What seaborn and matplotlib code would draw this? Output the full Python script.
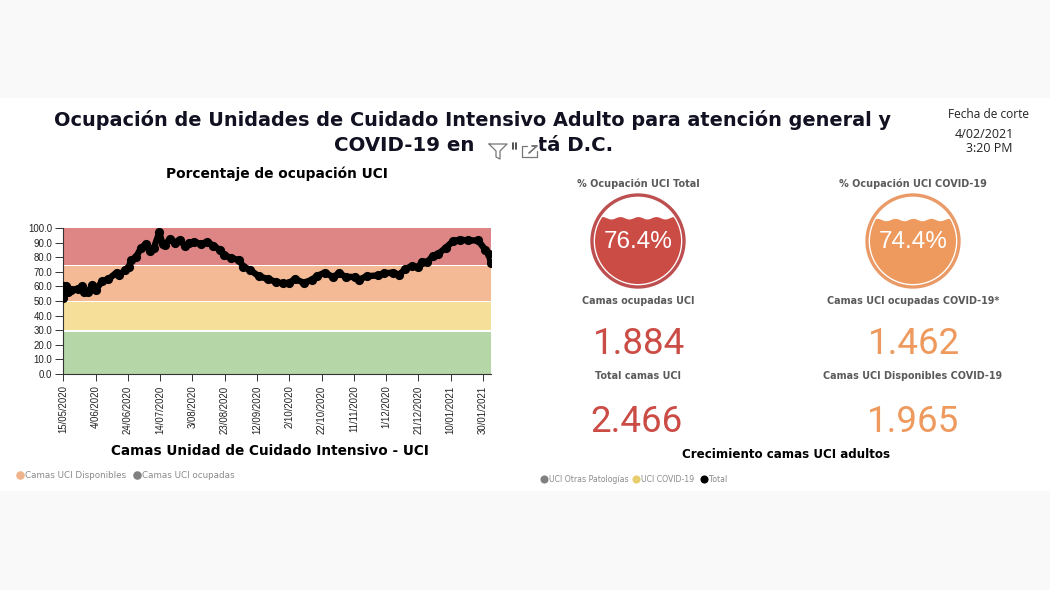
import numpy as np
import pandas as pd
import matplotlib
matplotlib.use('Agg')
import matplotlib.pyplot as plt
from matplotlib.patches import Circle, Rectangle
import seaborn as sns

W, H = 1050, 590

# days since 15/05/2020 and % occupation
days = [0, 0.5, 1.5, 3, 5, 9, 11.5, 13, 15.5, 18, 20, 24, 28, 33, 34.5, 38.5, 40.5, 42, 45, 48,
        51, 53.5, 56, 59.5, 61.5, 63, 66, 69, 72, 75.5, 78, 81, 85.5, 89, 93, 97, 99.5, 104, 109,
        111.5, 115.5, 121, 127, 132, 136, 140, 143.5, 149, 154, 157, 162, 167, 171, 175, 181, 183,
        188, 195, 199, 204.5, 208, 212, 216, 220, 222, 225.5, 229, 232, 237, 241.5, 245.5, 251,
        257, 261.5, 263.5, 265]
ocupacion = [52, 60, 60, 56, 57.5, 58.5, 60, 56, 56.5, 61, 57.5, 63.5, 65, 69.5, 67.5, 71.5, 73,
             78, 80, 86, 89, 84, 86, 97, 89, 88.5, 92.5, 90, 92, 87.5, 90, 90.5, 89, 90.5, 88, 85,
             81.5, 79.5, 78, 73.5, 71.5, 67, 65, 63, 62, 62.5, 65, 62.5, 64.5, 67, 69.5, 66.5, 69,
             66.5, 66.5, 64.5, 67, 67.5, 69, 69.5, 68, 72, 74, 73, 77, 76.5, 81, 82, 86.5, 91, 92,
             91.5, 91.5, 85, 82.5, 76]
tick_labels = ['15/05/2020', '4/06/2020', '24/06/2020', '14/07/2020', '3/08/2020', '23/08/2020',
               '12/09/2020', '2/10/2020', '22/10/2020', '11/11/2020', '1/12/2020', '21/12/2020',
               '10/01/2021', '30/01/2021']
y_ticks = [0, 10, 20, 30, 40, 50, 60, 70, 80, 90, 100]
band_low = [0, 30, 50, 75]
band_high = [29, 49, 74, 100]
band_colors = ['#B5D6A7', '#F5DF99', '#F4B995', '#DE8585']

gauge_values = [76.4, 74.4]
gauge_titles = ['% Ocupación UCI Total', '% Ocupación UCI COVID-19']
count_titles = ['Camas ocupadas UCI', 'Camas UCI ocupadas COVID-19*', 'Total camas UCI', 'Camas UCI Disponibles COVID-19']
count_values = ['1.884', '1.462', '2.466', '1.965']
RED = '#CB4B45'
ORANGE = '#EE9A5E'

sns.set_style('white')
plt.rcParams['font.family'] = ['DejaVu Sans']

fig = plt.figure(figsize=(W / 100, H / 100), dpi=100, facecolor='#F9F9F9')

# page layer in pixel coordinates
page = fig.add_axes([0, 0, 1, 1])
page.set_xlim(0, W)
page.set_ylim(H, 0)
page.axis('off')
page.add_patch(Rectangle((0, 98), W, 393, color='white', lw=0))

page.text(473, 120, 'Ocupación de Unidades de Cuidado Intensivo Adulto para atención general y',
          ha='center', va='center', fontsize=13.9, fontweight='bold', color='#111122')
page.text(474, 145, 'COVID-19 en Bogotá D.C.', ha='center', va='center', fontsize=14.2,
          fontweight='bold', color='#111122')
page.text(988, 114, 'Fecha de corte', ha='center', va='center', fontsize=8.6, family='Open Sans', color='#222222')
page.text(984, 134, '4/02/2021', ha='center', va='center', fontsize=9, family='Open Sans', color='#222222')
page.text(989, 149, '3:20 PM', ha='center', va='center', fontsize=9, family='Open Sans', color='#222222')
page.text(277, 174, 'Porcentaje de ocupación UCI', ha='center', va='center', fontsize=9.9, fontweight='bold', color='black')
page.text(270, 451, 'Camas Unidad de Cuidado Intensivo - UCI', ha='center', va='center', fontsize=9.85, fontweight='bold', color='black')
page.text(786, 455, 'Crecimiento camas UCI adultos', ha='center', va='center', fontsize=8.6, fontweight='bold', color='black')

# hover icons hide part of the title
page.add_patch(Rectangle((481, 136), 58, 24, color='white', lw=0, zorder=3))
page.plot([489, 507, 500, 500, 496, 496, 489], [144, 144, 151, 159, 157, 151, 144], color='#777777', lw=0.9, zorder=4)
page.plot([513, 513], [143, 149], color='#333333', lw=1.2, zorder=4)
page.plot([516, 516], [143, 149], color='#333333', lw=1.2, zorder=4)
page.plot([527, 522, 522, 537, 537], [146, 146, 157, 157, 151], color='#777777', lw=0.9, zorder=4)
page.plot([529, 537, 537, 532, 537, 529], [153, 146, 146, 146, 146, 153], color='#777777', lw=0.9, zorder=4)

# legends
for x, c, label in [(20, '#EFB48C', 'Camas UCI Disponibles'), (137, '#808080', 'Camas UCI ocupadas')]:
    page.scatter([x], [475], s=38, color=c, lw=0)
    page.text(x + 5, 475, label, va='center', fontsize=6.3, color='#8A8A8A')
for x, c, label in [(544, '#808080', 'UCI Otras Patologías'), (636, '#E8CD6E', 'UCI COVID-19'), (704, 'black', 'Total')]:
    page.scatter([x], [479], s=34, color=c, lw=0)
    page.text(x + 5, 479, label, va='center', fontsize=5.6, color='#8A8A8A')

# occupation chart
ax = fig.add_axes([63.3 / W, 1 - 374 / H, (491 - 63.3) / W, 146 / H], facecolor='white')
for low, high, c in zip(band_low, band_high, band_colors):
    ax.axhspan(low, high, color=c, lw=0, zorder=0)
df = pd.DataFrame({'dia': days, 'ocupacion': ocupacion})
sns.lineplot(data=df, x='dia', y='ocupacion', color='black', lw=4.6, marker='o', markersize=6.6,
             markeredgewidth=0, estimator=None, sort=False, ax=ax, zorder=3)
tick_dates = pd.to_datetime(tick_labels, format='%d/%m/%Y')
ax.set_xticks((tick_dates - tick_dates[0]).days)
ax.set_xticklabels(tick_labels, rotation=90, fontsize=6.9, family='Liberation Sans', color='#222222')
ax.set_yticks(y_ticks)
ax.set_yticklabels([f'{v:.1f}' for v in y_ticks], fontsize=6.9, family='Liberation Sans', color='#222222')
ax.set_xlim(0, 265)
ax.set_ylim(0, 100)
ax.set_xlabel('')
ax.set_ylabel('')
ax.tick_params(axis='x', bottom=True, length=5.2, width=0.7, color='#333333', pad=3)
ax.tick_params(axis='y', left=True, length=6, width=0.7, color='#333333', pad=2)
sns.despine(ax=ax)
for s in ['left', 'bottom']:
    ax.spines[s].set_color('#333333')
    ax.spines[s].set_linewidth(0.8)

# liquid gauges
for i, (cx, value, c) in enumerate(zip([638, 913], gauge_values, [RED, ORANGE])):
    g = fig.add_axes([(cx - 48) / W, 1 - (241 + 48) / H, 96 / W, 96 / H])
    g.set_xlim(-48, 48)
    g.set_ylim(-48, 48)
    g.axis('off')
    edge = '#BD4F50' if i == 0 else '#E99A66'
    g.add_patch(Circle((0, 0), 46, fill=False, ec=edge, lw=2.4))
    level = -44 + 88 * value / 100
    xs = np.linspace(-44, 44, 200)
    wave = level + 1.2 * np.cos(xs * 2 * np.pi / 18)
    fill = g.fill_between(xs, -44, wave, color=c, lw=0)
    fill.set_clip_path(Circle((0, 0), 43, transform=g.transData))
    g.text(0, -1, f'{value}%', ha='center', va='center', color='white', fontsize=17.5, family='Liberation Sans')

for cx, title in zip([638, 913], gauge_titles):
    page.text(cx, 184, title, ha='center', va='center', fontsize=7, fontweight='bold', color='#5A5A5A')
for (cx, cy), title in zip([(638, 301), (913, 301), (638, 376), (913, 376)], count_titles):
    page.text(cx, cy, title, ha='center', va='center', fontsize=6.9, fontweight='bold', color='#5A5A5A')
for (cx, cy), value, c in zip([(639, 344), (914, 344), (637, 422), (913, 422)], count_values, [RED, ORANGE, RED, ORANGE]):
    page.text(cx, cy, value, ha='center', va='center', fontsize=26.5, family='Roboto', color=c)

fig.savefig('out.png', dpi=100, facecolor=fig.get_facecolor())
